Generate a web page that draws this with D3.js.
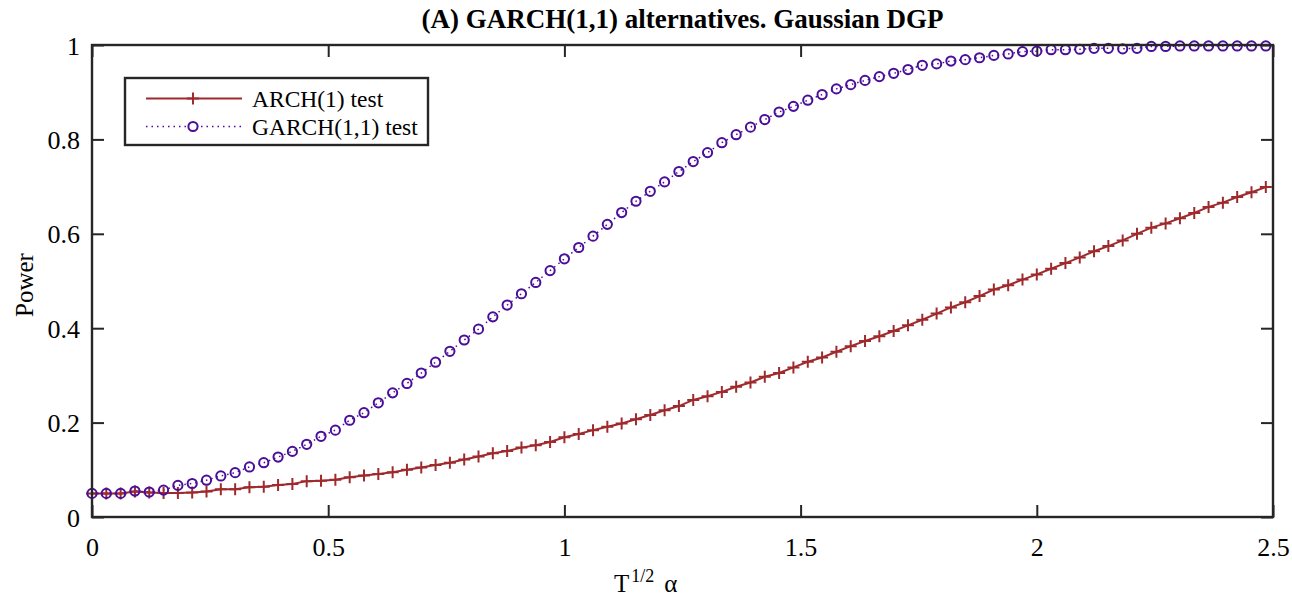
<!DOCTYPE html>
<html><head><meta charset="utf-8">
<script src="https://cdn.jsdelivr.net/npm/d3@7"></script>
<style>
body{margin:0;background:#fff;}
svg text{font-family:"Liberation Serif","Times New Roman",serif;fill:#000;}
</style></head>
<body><svg id="c" width="1292" height="599"></svg>
<script>
const xValues=[0,0.0303,0.0606,0.0909,0.1212,0.1515,0.1818,0.2121,0.2424,0.2727,
0.3030,0.3333,0.3636,0.3939,0.4242,0.4545,0.4848,0.5152,0.5455,0.5758,
0.6061,0.6364,0.6667,0.6970,0.7273,0.7576,0.7879,0.8182,0.8485,0.8788,
0.9091,0.9394,0.9697,1.0000,1.0303,1.0606,1.0909,1.1212,1.1515,1.1818,
1.2121,1.2424,1.2727,1.3030,1.3333,1.3636,1.3939,1.4242,1.4545,1.4848,
1.5152,1.5455,1.5758,1.6061,1.6364,1.6667,1.6970,1.7273,1.7576,1.7879,
1.8182,1.8485,1.8788,1.9091,1.9394,1.9697,2.0000,2.0303,2.0606,2.0909,
2.1212,2.1515,2.1818,2.2121,2.2424,2.2727,2.3030,2.3333,2.3636,2.3939,
2.4242,2.4545,2.4848];
const archPower=[.050,.050,.050,.054,.052,.051,.051,.052,.054,.059,
.059,.063,.064,.068,.070,.076,.077,.079,.084,.088,
.091,.095,.100,.105,.110,.115,.122,.128,.135,.140,
.147,.152,.159,.169,.176,.184,.191,.198,.207,.216,
.226,.235,.248,.256,.265,.276,.285,.297,.305,.317,
.329,.338,.350,.362,.373,.383,.394,.406,.418,.431,
.444,.455,.468,.482,.491,.503,.514,.526,.538,.550,
.563,.574,.586,.600,.613,.622,.633,.644,.657,.666,
.678,.688,.699];
const garchPower=[.050,.050,.050,.055,.053,.057,.067,.071,.078,.087,
.094,.106,.115,.127,.139,.154,.171,.184,.205,.221,
.242,.263,.283,.305,.328,.351,.375,.398,.424,.449,
.473,.497,.522,.547,.571,.595,.620,.645,.669,.690,
.710,.732,.753,.772,.793,.810,.826,.842,.858,.870,
.883,.895,.907,.916,.925,.933,.940,.948,.957,.960,
.966,.969,.973,.978,.981,.986,.987,.990,.990,.991,
.993,.993,.992,.993,.997,.997,.998,.998,.998,.998,
.998,.998,.998];
const xTicks=[0,0.5,1,1.5,2,2.5];
const yTicks=[0,0.2,0.4,0.6,0.8,1];
const seriesNames=["ARCH(1) test","GARCH(1,1) test"];
const titleText="(A) GARCH(1,1) alternatives. Gaussian DGP";

const svg=d3.select("#c");
const L=92,R=1273,T=45,B=517;
const AX="#262626", RED="#9e2a2d", PUR="#4a0e99";
const x=d3.scaleLinear().domain([0,2.5]).range([L,R]);
const y=d3.scaleLinear().domain([0,1]).range([B,T]);

const fmt=d3.format("");
const gB=svg.append("g").attr("transform",`translate(0,${B})`)
  .call(d3.axisBottom(x).tickValues(xTicks).tickSizeInner(-12).tickSizeOuter(0).tickPadding(39).tickFormat(d=>fmt(d)));
const gT=svg.append("g").attr("transform",`translate(0,${T})`)
  .call(d3.axisTop(x).tickValues(xTicks).tickSizeInner(-12).tickSizeOuter(0).tickFormat(""));
const gL=svg.append("g").attr("transform",`translate(${L},0)`)
  .call(d3.axisLeft(y).tickValues(yTicks).tickSizeInner(-12).tickSizeOuter(0).tickPadding(12).tickFormat(d=>fmt(d)));
const gR=svg.append("g").attr("transform",`translate(${R},0)`)
  .call(d3.axisRight(y).tickValues(yTicks).tickSizeInner(-12).tickSizeOuter(0).tickFormat(""));
[gB,gT,gL,gR].forEach(g=>{
  g.select(".domain").remove();
  g.selectAll(".tick line").attr("stroke",AX).attr("stroke-width",2);
  g.selectAll(".tick text").attr("font-size",26).attr("fill","#000")
   .style("font-family","'Liberation Serif',serif");
});
gB.selectAll(".tick text").attr("dy","0");
gL.selectAll(".tick text").attr("dy","0.35em");

const arch=xValues.map((d,i)=>[d,archPower[i]]);
const garch=xValues.map((d,i)=>[d,garchPower[i]]);
const line=d3.line().x(d=>x(d[0])).y(d=>y(d[1]));
const plot=svg.append("g");
plot.append("path").datum(arch).attr("d",line).attr("fill","none").attr("stroke",RED).attr("stroke-width",2);
plot.append("path").datum(garch).attr("d",line).attr("fill","none").attr("stroke",PUR).attr("stroke-width",1.5).attr("stroke-dasharray","1.5,4");
plot.selectAll("path.p").data(arch).enter().append("path").attr("class","p")
  .attr("d","M-6,0H6M0,-6V6").attr("transform",d=>`translate(${x(d[0])},${y(d[1])})`)
  .attr("stroke",RED).attr("stroke-width",2).attr("fill","none");
plot.selectAll("circle").data(garch).enter().append("circle")
  .attr("cx",d=>x(d[0])).attr("cy",d=>y(d[1])).attr("r",4.6)
  .attr("fill","none").attr("stroke",PUR).attr("stroke-width",2);

svg.append("rect").attr("x",L).attr("y",T).attr("width",R-L).attr("height",B-T)
  .attr("fill","none").attr("stroke",AX).attr("stroke-width",2.4);

svg.append("text").attr("x",(L+R)/2).attr("y",28).attr("text-anchor","middle")
  .attr("font-size",27).attr("font-weight","bold").text(titleText);
svg.append("text").attr("transform","translate(33,285) rotate(-90)").attr("text-anchor","middle")
  .attr("font-size",25).text("Power");
const xl=svg.append("text").attr("x",614).attr("y",592).attr("font-size",25);
xl.append("tspan").text("T");
xl.append("tspan").attr("font-size",18).attr("dy",-10).attr("dx",2).text("1/2");
xl.append("tspan").attr("dy",10).attr("dx",10).text("α");

const lg=svg.append("g");
lg.append("rect").attr("x",125).attr("y",78).attr("width",303).attr("height",67)
  .attr("fill","#fff").attr("stroke",AX).attr("stroke-width",2.4);
const rows=[{name:seriesNames[0],c:RED,dash:null,m:"plus",yy:98.5},{name:seriesNames[1],c:PUR,dash:"1.5,4",m:"circle",yy:126.5}];
rows.forEach(r=>{
  lg.append("line").attr("x1",146).attr("x2",242).attr("y1",r.yy).attr("y2",r.yy)
    .attr("stroke",r.c).attr("stroke-width",r.dash?1.5:2).attr("stroke-dasharray",r.dash);
  if(r.m==="plus") lg.append("path").attr("d","M-6,0H6M0,-6V6").attr("transform",`translate(193,${r.yy})`).attr("stroke",r.c).attr("stroke-width",2);
  else lg.append("circle").attr("cx",193).attr("cy",r.yy).attr("r",4.6).attr("fill","#fff").attr("stroke",r.c).attr("stroke-width",2);
  lg.append("text").attr("x",252).attr("y",r.yy).attr("dy","0.35em").attr("font-size",23.5).text(r.name);
});
</script></body></html>
